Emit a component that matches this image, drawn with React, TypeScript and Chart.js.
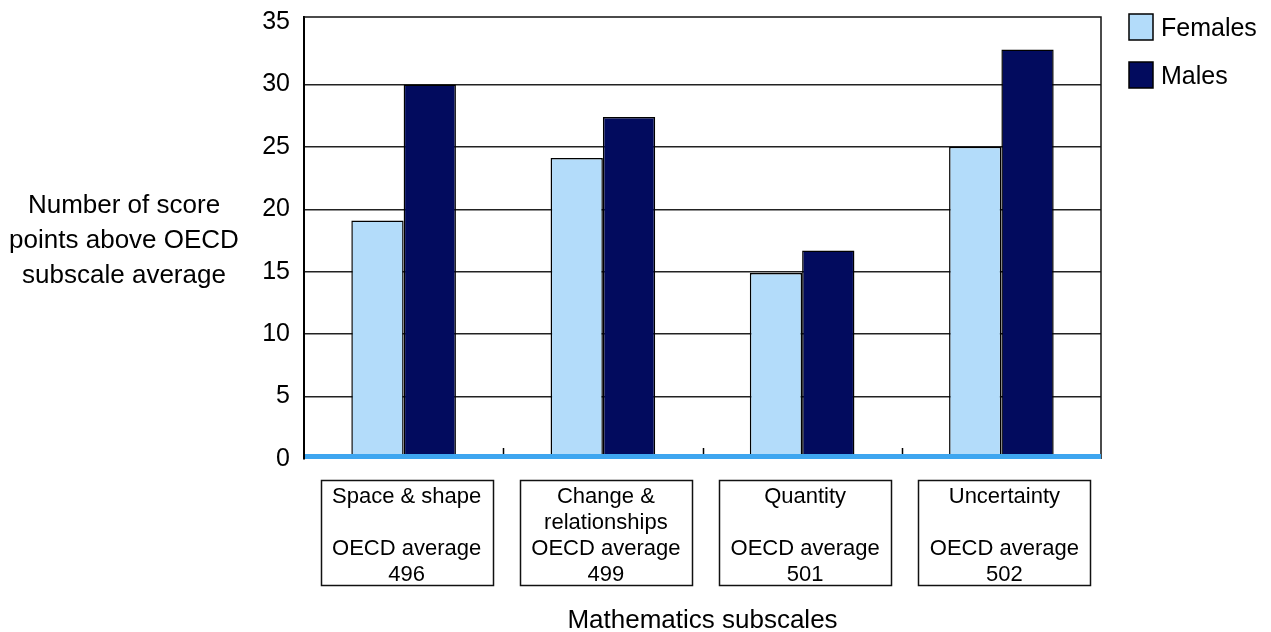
import { useEffect, useRef } from "react";
import { Chart, registerables } from "chart.js";

Chart.register(...registerables);

// Mathematics subscales, score points above the OECD subscale average
const subscales = ["Space & shape", "Change & relationships", "Quantity", "Uncertainty"];
const subscaleLines = [
  ["Space & shape", ""],
  ["Change &", "relationships"],
  ["Quantity", ""],
  ["Uncertainty", ""],
];
const oecdAverages = [496, 499, 501, 502];
const females = [19.1, 24.1, 14.9, 25.0];
const males = [30.0, 27.4, 16.7, 32.8];
const yTicks = [0, 5, 10, 15, 20, 25, 30, 35];
const seriesNames = ["Females", "Males"];
const seriesColors = ["#b3dcfa", "#020b5e"];
const yTitleLines = ["Number of score", "points above OECD", "subscale average"];
const xTitle = "Mathematics subscales";

const FONT = '"Liberation Sans", Arial, Helvetica, sans-serif';

const decorations = {
  id: "decorations",
  afterDatasetsDraw(chart: any) {
    const { ctx, chartArea: a, scales } = chart;
    const xs = scales.x;
    ctx.save();
    // top and right frame of the plot area
    ctx.strokeStyle = "#111";
    ctx.lineWidth = 1.5;
    ctx.beginPath();
    ctx.moveTo(a.left, a.top);
    ctx.lineTo(a.right, a.top);
    ctx.lineTo(a.right, a.bottom);
    ctx.stroke();
    // blue category axis line
    ctx.fillStyle = "#3ea6f0";
    ctx.fillRect(a.left + 1, a.bottom - 5, a.right - a.left - 1, 5);
    // inward tick marks between categories
    ctx.strokeStyle = "#000";
    ctx.lineWidth = 1.5;
    for (let i = 1; i < subscales.length; i++) {
      const bx = Math.round((xs.getPixelForValue(i - 1) + xs.getPixelForValue(i)) / 2) + 0.5;
      ctx.beginPath();
      ctx.moveTo(bx, a.bottom - 11);
      ctx.lineTo(bx, a.bottom - 5);
      ctx.stroke();
    }
    ctx.restore();
  },
  afterDraw(chart: any) {
    const { ctx, chartArea: a, scales } = chart;
    const xs = scales.x;
    ctx.save();
    ctx.fillStyle = "#000";
    ctx.textBaseline = "alphabetic";

    // category label boxes
    ctx.font = `22px ${FONT}`;
    ctx.textAlign = "center";
    subscales.forEach((_, i) => {
      const cx = xs.getPixelForValue(i) + 3;
      ctx.strokeStyle = "#111";
      ctx.lineWidth = 1.5;
      ctx.strokeRect(Math.round(cx - 86) + 0.5, 480.5, 172, 105);
      const lines = [...subscaleLines[i], "OECD average", String(oecdAverages[i])];
      lines.forEach((t, k) => {
        if (t) ctx.fillText(t, cx, 503 + k * 26);
      });
    });

    // x axis title
    ctx.font = `26px ${FONT}`;
    ctx.fillText(xTitle, (a.left + a.right) / 2, 628);

    // y axis title, horizontal, three lines
    ctx.font = `26px ${FONT}`;
    yTitleLines.forEach((t, k) => ctx.fillText(t, 124, 213 + k * 35));

    // legend
    ctx.textAlign = "left";
    ctx.font = `25px ${FONT}`;
    seriesNames.forEach((name, k) => {
      const top = 14 + k * 48;
      ctx.fillStyle = seriesColors[k];
      ctx.fillRect(1129, top, 24, 26);
      ctx.strokeStyle = "#000";
      ctx.lineWidth = 1.5;
      ctx.strokeRect(1129, top, 24, 26);
      ctx.fillStyle = "#000";
      ctx.fillText(name, 1161, top + 22);
    });
    ctx.restore();
  },
};

export default function App() {
  const canvasRef = useRef<HTMLCanvasElement | null>(null);

  useEffect(() => {
    const canvas = canvasRef.current;
    if (!canvas) return;
    const chart = new Chart(canvas, {
      type: "bar",
      data: {
        labels: subscales,
        datasets: [
          {
            label: seriesNames[0],
            data: females,
            backgroundColor: seriesColors[0],
            borderColor: "#000",
            borderWidth: 1.5,
          },
          {
            label: seriesNames[1],
            data: males,
            backgroundColor: seriesColors[1],
            borderColor: "#000",
            borderWidth: 1.5,
          },
        ],
      },
      options: {
        responsive: false,
        animation: false,
        devicePixelRatio: 1,
        layout: { padding: { top: 17, right: 170, left: 0, bottom: 0 } },
        datasets: { bar: { categoryPercentage: 0.525, barPercentage: 1 } },
        plugins: {
          legend: { display: false },
          tooltip: { enabled: false },
          title: { display: false },
        },
        scales: {
          x: {
            grid: { display: false },
            border: { display: false },
            ticks: { display: false },
            afterFit: (scale: any) => {
              scale.height = 173;
            },
          },
          y: {
            min: 0,
            max: 35.4,
            afterBuildTicks: (scale: any) => {
              scale.ticks = yTicks.map((v) => ({ value: v }));
            },
            afterFit: (scale: any) => {
              scale.width = 304;
              scale.paddingTop = 0;
              scale.paddingBottom = 0;
            },
            border: { display: true, color: "#000", width: 2 },
            grid: {
              drawTicks: false,
              lineWidth: 1.5,
              color: (c: any) =>
                c.tick && (c.tick.value === 0 || c.tick.value === 35) ? "rgba(0,0,0,0)" : "#222",
            },
            ticks: {
              padding: 14,
              color: "#000",
              font: { family: FONT, size: 25 },
            },
          },
        },
      },
      plugins: [decorations],
    });
    return () => chart.destroy();
  }, []);

  return (
    <div style={{ position: "absolute", left: 0, top: 0, width: 1271, height: 632, background: "#fff" }}>
      <canvas ref={canvasRef} width={1271} height={632} />
    </div>
  );
}
